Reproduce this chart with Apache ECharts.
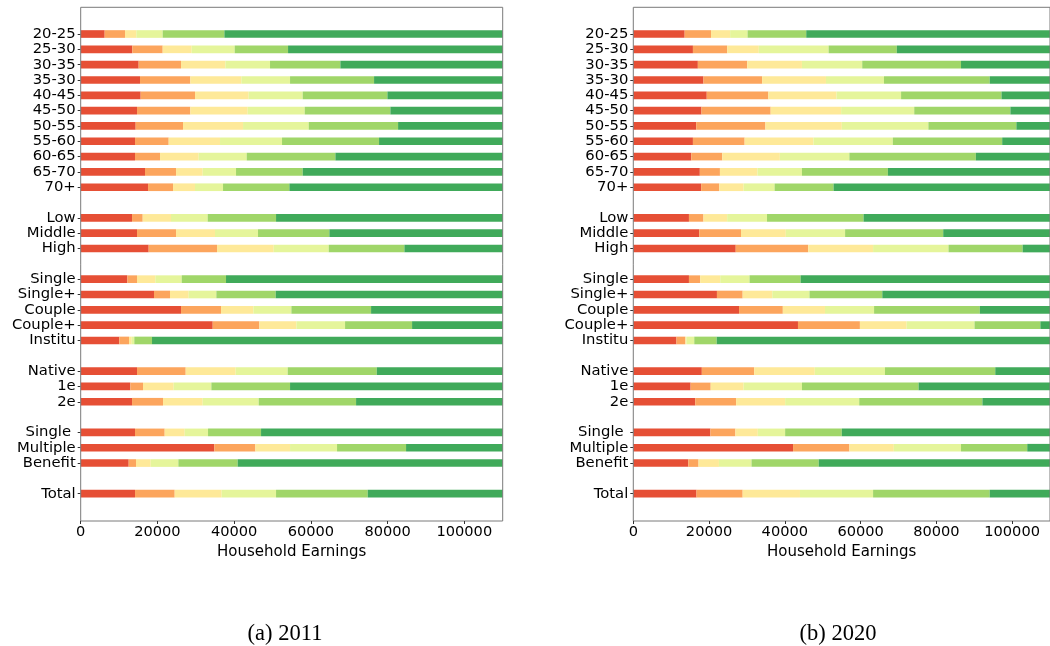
<!DOCTYPE html>
<html>
<head>
<meta charset="utf-8">
<script src="https://cdn.jsdelivr.net/npm/echarts@6/dist/echarts.min.js"></script>
<style>
  html, body { margin: 0; padding: 0; background: #fff; }
  #chart { width: 1050px; height: 646px; }
</style>
</head>
<body>
<div id="chart"></div>
<script>
// Row labels (blank entries leave a gap between groups)
const categories = [
  '20-25', '25-30', '30-35', '35-30', '40-45', '45-50', '50-55', '55-60', '60-65', '65-70', '70+',
  '',
  'Low', 'Middle', 'High',
  ' ',
  'Single', 'Single+', 'Couple', 'Couple+', 'Institu',
  '  ',
  'Native', '1e', '2e',
  '   ',
  'Single ', 'Multiple', 'Benefit',
  '    ',
  'Total'
];

const xTicks = [0, 20000, 40000, 60000, 80000, 100000];
const xMax = 110000;

// Cumulative upper edge of each coloured band (household earnings), 2011
const cut1_2011 = [6250, 13460, 15110, 15460, 15630, 14680, 14330, 14160, 14160, 16760, 17550, null, 13380, 14680, 17720, null, 12160, 19110, 26150, 34410, 10060, null, 14680, 12940, 13380, null, 14160, 34840, 12510, null, 14160];
const cut2_2011 = [11550, 21370, 26150, 28580, 29800, 28580, 26670, 22940, 20680, 24850, 24070, null, 16160, 24850, 35540, null, 14680, 23280, 36580, 46570, 12590, null, 27370, 16240, 21460, null, 21890, 45530, 14420, null, 24500];
const cut3_2011 = [14500, 28930, 37710, 41880, 43790, 43530, 42320, 36320, 30760, 31800, 29800, null, 23540, 35010, 50310, null, 19460, 28150, 45010, 56220, 13300, null, 40400, 24240, 31800, null, 27110, 54570, 18240, null, 36750];
const cut4_2011 = [21370, 40140, 49350, 54570, 57870, 58390, 59440, 52480, 43270, 40490, 37100, null, 33100, 46220, 64650, null, 26330, 35360, 54920, 68910, 13970, null, 53960, 34060, 46400, null, 33190, 66820, 25460, null, 50920];
const cut5_2011 = [37450, 54050, 67690, 76470, 79950, 80730, 82730, 77770, 66390, 57870, 54400, null, 50920, 64820, 84380, null, 37880, 50830, 75690, 86380, 18590, null, 77170, 54570, 71780, null, 47010, 84810, 40920, null, 74820];

// Cumulative upper edge of each coloured band (household earnings), 2020
const cut1_2020 = [13560, 15740, 17040, 18520, 19390, 18000, 16610, 15740, 15300, 17560, 17910, null, 14690, 17390, 27040, null, 14690, 22080, 27910, 43470, 11400, null, 18090, 15130, 16350, null, 20350, 42170, 14520, null, 16690];
const cut2_2020 = [20520, 24780, 30080, 34000, 35650, 36260, 34870, 29390, 23480, 22870, 22690, null, 18520, 28430, 46170, null, 17650, 28870, 39470, 59820, 13750, null, 31910, 20430, 27130, null, 26950, 57040, 17220, null, 28870];
const cut3_2020 = [25560, 33130, 44520, 50860, 53650, 54860, 55040, 47560, 38690, 32780, 29130, null, 24780, 40260, 63300, null, 22950, 36690, 50600, 72160, 14000, null, 47910, 29130, 40080, null, 32870, 68770, 22610, null, 44000];
const cut4_2020 = [30170, 51560, 60430, 66170, 70690, 74160, 77900, 68510, 57040, 44520, 37300, null, 35300, 55910, 83210, null, 30690, 46520, 63560, 90080, 16090, null, 66430, 44520, 59640, null, 40080, 86510, 31210, null, 63300];
const cut5_2020 = [45650, 69560, 86510, 94080, 97200, 99550, 101120, 97380, 90420, 67210, 52860, null, 60780, 81810, 102770, null, 44170, 65730, 91470, 107460, 22010, null, 95550, 75300, 92160, null, 55040, 103990, 48950, null, 94080];

const bandColors = ['#e64f35', '#fca55d', '#fee999', '#e5f59b', '#a0d669', '#40aa5a'];
const captions = ['(a) 2011', '(b) 2020'];

const FONT = 'DejaVu Sans';
const SPINE = '#7a7a7a';

// Turn cumulative band edges into stacked segment widths; the last band runs to the axis end
function segments(cuts) {
  const out = [];
  for (let k = 0; k <= cuts.length; k++) {
    out.push(categories.map((_, i) => {
      const lo = k === 0 ? 0 : cuts[k - 1][i];
      const hi = k === cuts.length ? xMax : cuts[k][i];
      if (lo === null || hi === null) return null;
      return hi - lo;
    }));
  }
  return out;
}

const panels = [
  { left: 80.7, width: 422, segs: segments([cut1_2011, cut2_2011, cut3_2011, cut4_2011, cut5_2011]) },
  { left: 633.3, width: 421.7, segs: segments([cut1_2020, cut2_2020, cut3_2020, cut4_2020, cut5_2020]) }
];

const frameTop = 7.3, frameHeight = 513.7;
const rowTop = 26.35, rowHeight = 475;

const grid = [], xAxis = [], yAxis = [], series = [];
const isLabel = (idx, val) => String(val).trim() !== '';

panels.forEach((p, pi) => {
  const gBars = grid.length;
  grid.push({ left: p.left, width: p.width, top: rowTop, height: rowHeight, containLabel: false });
  xAxis.push({ gridIndex: gBars, type: 'value', min: 0, max: xMax, show: false });
  yAxis.push({
    gridIndex: gBars, type: 'category', inverse: true, data: categories,
    axisLine: { show: false },
    axisTick: { show: true, alignWithLabel: true, length: 3, interval: isLabel, lineStyle: { color: '#333', width: 1 } },
    axisLabel: { interval: isLabel, fontFamily: FONT, fontSize: 14.8, color: '#000', margin: 5 },
    splitLine: { show: false }
  });
  p.segs.forEach((vals, k) => {
    series.push({
      type: 'bar', stack: 'p' + pi, xAxisIndex: gBars, yAxisIndex: gBars,
      barWidth: '50%', data: vals, silent: true,
      itemStyle: { color: bandColors[k] },
      animation: false
    });
  });

  const gFrame = grid.length;
  grid.push({ left: p.left, width: p.width, top: frameTop, height: frameHeight, show: true, borderColor: SPINE, borderWidth: 1, z: 5 });
  xAxis.push({
    gridIndex: gFrame, type: 'value', min: 0, max: xMax, interval: 20000, z: 5,
    axisLine: { show: false },
    axisTick: { show: true, length: 3, customValues: xTicks, lineStyle: { color: '#333', width: 1 } },
    axisLabel: {
      fontFamily: FONT, fontSize: 14.6, color: '#000', margin: 4, customValues: xTicks,
      formatter: v => String(v)
    },
    splitLine: { show: false },
    name: 'Household Earnings', nameLocation: 'middle', nameGap: 21,
    nameTextStyle: { fontFamily: FONT, fontSize: 15, color: '#000' }
  });
  yAxis.push({ gridIndex: gFrame, type: 'value', show: false, min: 0, max: 1 });
});

const title = captions.map((t, i) => ({
  text: t,
  left: i === 0 ? 280 : 833,
  top: 618,
  textAlign: 'center',
  textStyle: { fontFamily: 'Liberation Serif', fontSize: 22.5, fontWeight: 'normal', color: '#000' }
}));

const chart = echarts.init(document.getElementById('chart'), null, { renderer: 'canvas' });
chart.setOption({ backgroundColor: '#fff', animation: false, title, grid, xAxis, yAxis, series });
</script>
</body>
</html>
